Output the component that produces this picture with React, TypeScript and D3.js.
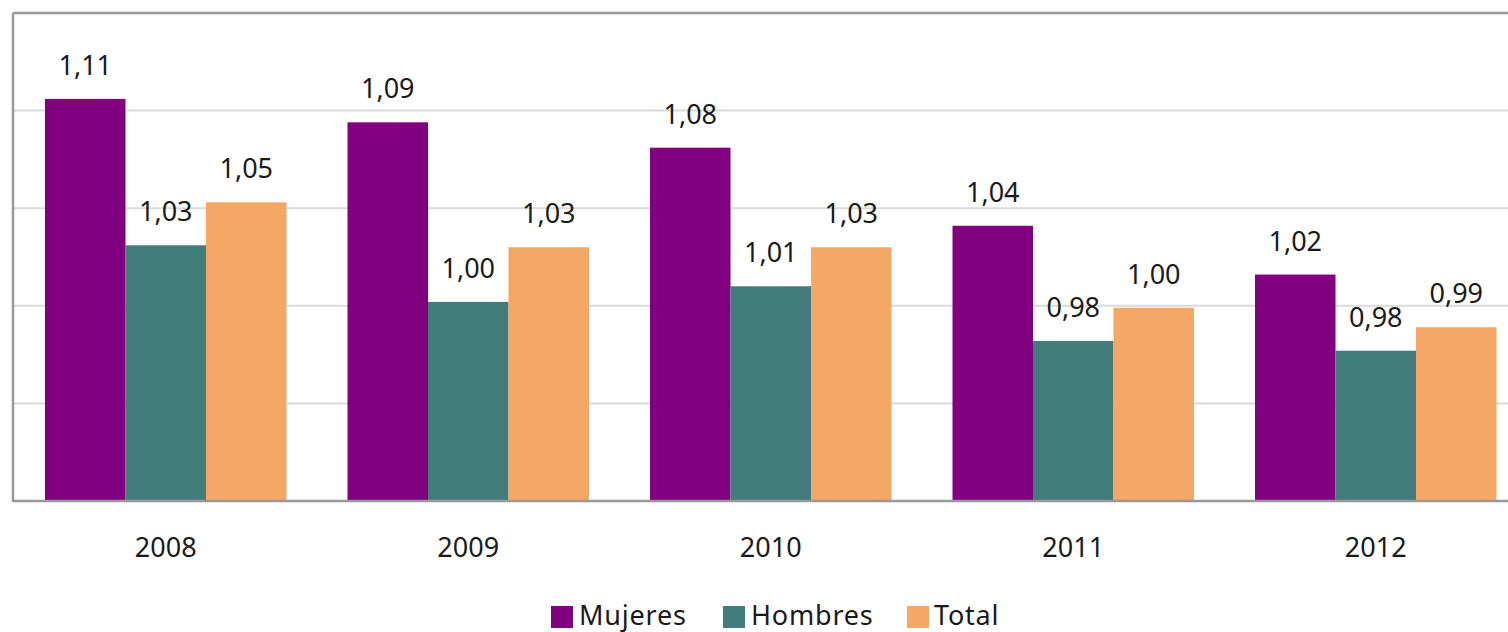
import React from "react";
import * as d3 from "d3";

const years = ["2008", "2009", "2010", "2011", "2012"];
const seriesNames = ["Mujeres", "Hombres", "Total"];
const mujeres = [1.106, 1.094, 1.081, 1.041, 1.016];
const hombres = [1.031, 1.002, 1.01, 0.982, 0.977];
const total = [1.053, 1.03, 1.03, 0.999, 0.989];
const gridTicks = [0.95, 1.0, 1.05, 1.1];
const colors = ["#800080", "#427D7B", "#F5A866"];

const W = 1508;
const H = 632;
const plotLeft = 13;
const plotTop = 13;
const plotBottom = 501;
const plotRight = 1527;

export default function App() {
  const series = [mujeres, hombres, total];
  const x0 = d3.scaleBand<string>().domain(years).range([14.5, 14.5 + 5 * 302.5]).paddingInner(0).paddingOuter(0);
  const bandPad = 30.5;
  const x1 = d3
    .scaleBand<string>()
    .domain(seriesNames)
    .range([bandPad, x0.bandwidth() - bandPad])
    .padding(0);
  const y = d3.scaleLinear().domain([0.9, 1.15]).range([plotBottom, plotTop]);
  const fmt = (v: number) => v.toFixed(2).replace(".", ",");
  const font = "'Noto Sans', 'Open Sans', sans-serif";
  const legendItems = [
    { name: "Mujeres", sx: 551, tx: 579 },
    { name: "Hombres", sx: 723, tx: 751 },
    { name: "Total", sx: 907, tx: 934 },
  ];

  return (
    <svg
      width={W}
      height={H}
      style={{ position: "absolute", left: 0, top: 0, background: "#fff" }}
      fontFamily={font}
    >
      <rect x={0} y={0} width={W} height={H} fill="#fff" />
      {gridTicks.map((t) => (
        <line key={t} x1={plotLeft} x2={plotRight} y1={y(t)} y2={y(t)} stroke="#DADADA" strokeWidth={2} />
      ))}
      {years.map((yr, i) => (
        <g key={yr} transform={`translate(${x0(yr)},0)`}>
          {series.map((s, j) => {
            const v = s[i];
            const bx = x1(seriesNames[j])!;
            const bw = x1.bandwidth();
            return (
              <g key={j}>
                <rect x={bx} y={y(v)} width={bw} height={plotBottom - y(v)} fill={colors[j]} />
                <text
                  x={bx + bw / 2}
                  y={y(v) - 24}
                  textAnchor="middle"
                  fontSize={27}
                  fill="#1a1a1a"
                >
                  {fmt(v)}
                </text>
              </g>
            );
          })}
          <text x={x0.bandwidth() / 2} y={557} textAnchor="middle" fontSize={27} fill="#1a1a1a">
            {yr}
          </text>
        </g>
      ))}
      <line x1={plotLeft} x2={plotLeft} y1={plotTop} y2={plotBottom + 1} stroke="#999" strokeWidth={2.5} />
      <line x1={plotLeft} x2={plotRight} y1={plotTop} y2={plotTop} stroke="#999" strokeWidth={2.5} />
      <line x1={plotLeft} x2={plotRight} y1={plotBottom} y2={plotBottom} stroke="#999" strokeWidth={2.5} />
      {legendItems.map((it, j) => (
        <g key={it.name}>
          <rect x={it.sx} y={606} width={22} height={22} fill={colors[j]} />
          <text x={it.tx} y={625} fontSize={27} letterSpacing={0.8} fill="#1a1a1a">
            {seriesNames[j]}
          </text>
        </g>
      ))}
    </svg>
  );
}
